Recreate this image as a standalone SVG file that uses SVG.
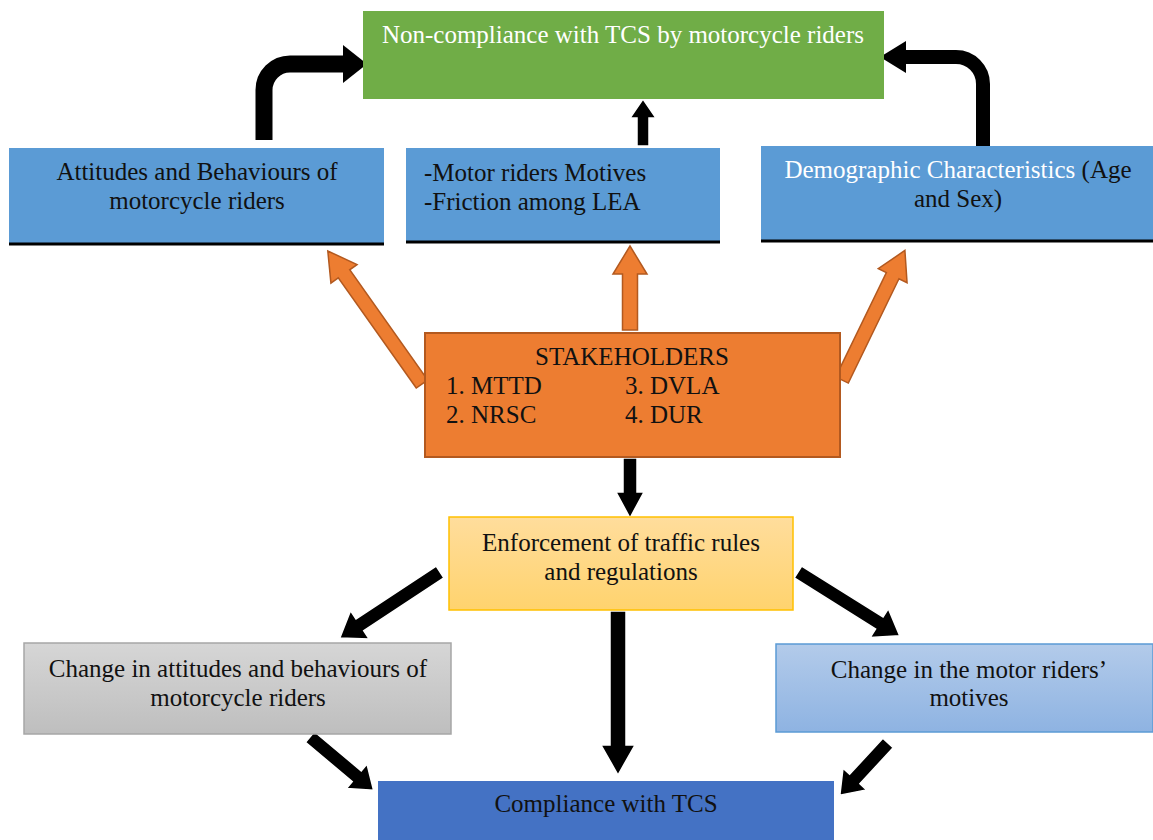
<svg xmlns="http://www.w3.org/2000/svg" width="1153" height="840" viewBox="0 0 1153 840">
<defs>
<linearGradient id="gYel" x1="0" y1="0" x2="0" y2="1"><stop offset="0" stop-color="#FFDD9C"/><stop offset="1" stop-color="#FFD36E"/></linearGradient>
<linearGradient id="gGray" x1="0" y1="0" x2="0" y2="1"><stop offset="0" stop-color="#D6D6D6"/><stop offset="1" stop-color="#BEBEBE"/></linearGradient>
<linearGradient id="gBlue" x1="0" y1="0" x2="0" y2="1"><stop offset="0" stop-color="#B3CBEA"/><stop offset="1" stop-color="#8EB3E2"/></linearGradient>
</defs>
<style>
text{font-size:25px;fill:#111}
.c{text-anchor:middle}
.w{fill:#fff}
.blk{fill:#000;stroke:#fff;stroke-width:1.5}
.org{fill:#ED7D31;stroke:#B3591F;stroke-width:1.5}
.base{stroke:#000;stroke-width:3}
</style>
<rect width="1153" height="840" fill="#fff"/>
<g id="connectors">
<path d="M264,140 V90 A26,26 0 0 1 290,64 H345" fill="none" stroke="#000" stroke-width="17"/>
<polygon points="343,45 367,64 343,83" fill="#000"/>
<path d="M983,148 V84 A27,27 0 0 0 956,57 H904" fill="none" stroke="#000" stroke-width="14"/>
<polygon points="906,41 880,57 906,73" fill="#000"/>
<polygon class="blk" transform="translate(643,146) rotate(-90)" points="0,-6 28,-6 28,-13 47,0 28,13 28,6 0,6"/>
<polygon class="org" transform="translate(422,384) rotate(-125.3)" points="0,-7 135,-7 135,-16 163,0 135,16 135,7 0,7"/>
<polygon class="org" transform="translate(630,330) rotate(-90)" points="0,-7.5 56,-7.5 56,-17 84,0 56,17 56,7.5 0,7.5"/>
<polygon class="org" transform="translate(842,380) rotate(-64.1)" points="0,-7 116,-7 116,-16 144,0 116,16 116,7 0,7"/>
<polygon class="blk" transform="translate(630,458) rotate(90)" points="0,-7 34,-7 34,-14 60,0 34,14 34,7 0,7"/>
<polygon class="blk" transform="translate(440,572) rotate(146.6)" points="0,-7 96,-7 96,-17 120,0 96,17 96,7 0,7"/>
<polygon class="blk" transform="translate(798,572) rotate(32.1)" points="0,-7 96,-7 96,-17 120,0 96,17 96,7 0,7"/>
<polygon class="blk" transform="translate(618,611) rotate(90)" points="0,-8 134,-8 134,-17 164,0 134,17 134,8 0,8"/>
<polygon class="blk" transform="translate(310,737) rotate(40)" points="0,-7 61,-7 61,-16 83,0 61,16 61,7 0,7"/>
<polygon class="blk" transform="translate(888,743) rotate(132.7)" points="0,-7 49,-7 49,-16 71,0 49,16 49,7 0,7"/>
</g>
<g font-family="'Liberation Serif', 'Times New Roman', serif">
<g id="noncompliance">
<rect x="363" y="11" width="521" height="88" fill="#70AD47"/>
<text class="c w" x="623" y="43">Non-compliance with TCS by motorcycle riders</text>
</g>
<g id="attitudes">
<rect x="9" y="148" width="375" height="96" fill="#5B9BD5"/>
<line class="base" x1="9" y1="244" x2="384" y2="244"/>
<text class="c" x="197" y="180">Attitudes and Behaviours of</text>
<text class="c" x="197" y="209">motorcycle riders</text>
</g>
<g id="motives">
<rect x="406" y="148" width="314" height="94" fill="#5B9BD5"/>
<line class="base" x1="406" y1="242" x2="720" y2="242"/>
<text x="424" y="181">-Motor riders Motives</text>
<text x="424" y="210">-Friction among LEA</text>
</g>
<g id="demographic">
<rect x="761" y="146" width="392" height="95" fill="#5B9BD5"/>
<line class="base" x1="761" y1="241" x2="1153" y2="241"/>
<text class="c" x="958" y="178"><tspan class="w">Demographic Characteristics</tspan> (Age</text>
<text class="c" x="958" y="207">and Sex)</text>
</g>
<g id="stakeholders">
<rect x="425" y="333" width="415" height="124" fill="#ED7D31" stroke="#B3591F" stroke-width="2"/>
<text class="c" x="632" y="365">STAKEHOLDERS</text>
<text x="446" y="394">1. MTTD</text>
<text x="625" y="394">3. DVLA</text>
<text x="446" y="423">2. NRSC</text>
<text x="625" y="423">4. DUR</text>
</g>
<g id="enforcement">
<rect x="449" y="517" width="344" height="93" fill="url(#gYel)" stroke="#FFC000" stroke-width="1.5"/>
<text class="c" x="621" y="551">Enforcement of traffic rules</text>
<text class="c" x="621" y="580">and regulations</text>
</g>
<g id="change-attitudes">
<rect x="24" y="643" width="427" height="91" fill="url(#gGray)" stroke="#A6A6A6" stroke-width="1.5"/>
<text class="c" x="238" y="677">Change in attitudes and behaviours of</text>
<text class="c" x="238" y="706">motorcycle riders</text>
</g>
<g id="change-motives">
<rect x="776" y="644" width="377" height="88" fill="url(#gBlue)" stroke="#5B9BD5" stroke-width="1.5"/>
<text class="c" x="969" y="678">Change in the motor riders’</text>
<text class="c" x="969" y="706">motives</text>
</g>
<g id="compliance">
<rect x="378" y="781" width="456" height="59" fill="#4472C4"/>
<text class="c" x="606" y="812">Compliance with TCS</text>
</g>
</g>
</svg>
